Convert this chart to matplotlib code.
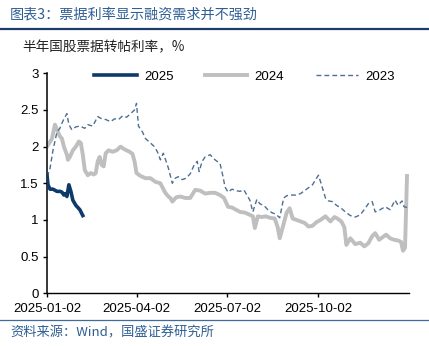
import matplotlib
matplotlib.use("Agg")
import matplotlib.pyplot as plt
import pandas as pd
from matplotlib.lines import Line2D

plt.rcParams['font.family'] = ['Liberation Sans', 'Noto Sans CJK SC', 'DejaVu Sans']

# ---- data (days after 2025-01-02, value %) ----
days_2025 = [0, 1, 3, 6, 10, 13, 15, 17, 19, 20, 22, 24, 26, 29, 33, 36]
vals_2025 = [1.61, 1.48, 1.42, 1.42, 1.39, 1.39, 1.38, 1.34, 1.36, 1.32, 1.48, 1.39, 1.27, 1.20, 1.14, 1.06]

days_2024 = [0, 5, 8, 11, 13, 15, 17, 20, 21, 23, 26, 29, 32, 34, 36, 38, 41, 44, 47, 49,
             51, 53, 55, 57, 59, 62, 66, 70, 74, 77, 80, 83, 86, 88, 90, 94, 99, 104, 109, 114,
             117, 119, 122, 124, 126, 130, 134, 139, 144, 149, 154, 159, 164, 169, 174, 178, 182, 186, 190, 194,
             199, 204, 207, 209, 212, 216, 220, 224, 229, 232, 234, 238, 241, 244, 247, 251, 255, 259, 263, 267,
             271, 275, 280, 285, 289, 292, 296, 299, 301, 305, 310, 315, 319, 323, 327, 330, 334, 337, 341, 345,
             349, 353, 356, 358, 360, 362]
vals_2024 = [2.00, 2.11, 2.30, 2.20, 2.14, 2.11, 2.00, 1.89, 1.82, 1.86, 1.95, 2.00, 2.07, 2.05, 1.89, 1.68, 1.61, 1.64, 1.62, 1.64,
             1.80, 1.86, 1.75, 1.73, 1.91, 1.95, 1.93, 1.95, 2.00, 1.97, 1.95, 1.93, 1.90, 1.80, 1.64, 1.60, 1.57, 1.57, 1.52, 1.50,
             1.42, 1.37, 1.32, 1.30, 1.25, 1.31, 1.32, 1.30, 1.30, 1.41, 1.40, 1.36, 1.37, 1.37, 1.34, 1.30, 1.18, 1.17, 1.14, 1.11,
             1.10, 1.07, 1.05, 0.89, 1.05, 1.04, 1.05, 1.03, 1.02, 0.90, 0.75, 0.95, 1.10, 1.16, 1.02, 1.00, 0.98, 0.96, 0.91, 0.92,
             0.97, 1.00, 1.05, 0.98, 1.04, 1.02, 0.98, 0.90, 0.66, 0.75, 0.67, 0.69, 0.64, 0.68, 0.78, 0.82, 0.73, 0.76, 0.80, 0.75,
             0.73, 0.72, 0.70, 0.58, 0.62, 1.60]

days_2023 = [0, 3, 6, 10, 13, 16, 20, 22, 25, 29, 33, 38, 41, 46, 51, 55, 59, 64, 68, 72,
             76, 80, 84, 88, 90, 92, 96, 99, 104, 108, 111, 114, 117, 122, 126, 129, 132, 136, 140, 144,
             148, 151, 153, 156, 159, 164, 169, 174, 177, 179, 182, 186, 190, 194, 198, 201, 204, 207, 211, 214,
             218, 222, 226, 230, 234, 238, 241, 245, 250, 255, 260, 264, 267, 270, 273, 276, 280, 283, 287, 291,
             295, 300, 305, 310, 315, 320, 323, 327, 330, 335, 340, 345, 350, 353, 357, 359, 362]
vals_2023 = [1.59, 1.70, 1.95, 2.20, 2.25, 2.35, 2.45, 2.30, 2.23, 2.27, 2.28, 2.25, 2.30, 2.28, 2.41, 2.38, 2.37, 2.34, 2.38, 2.37,
             2.42, 2.40, 2.45, 2.50, 2.59, 2.28, 2.20, 2.11, 2.05, 2.00, 1.93, 1.82, 1.91, 1.71, 1.50, 1.57, 1.59, 1.55, 1.57, 1.63,
             1.75, 1.80, 1.66, 1.80, 1.86, 1.89, 1.82, 1.77, 1.59, 1.45, 1.38, 1.42, 1.40, 1.39, 1.41, 1.34, 1.27, 1.11, 1.28, 1.22,
             1.20, 1.14, 1.10, 1.08, 1.03, 1.30, 1.33, 1.34, 1.34, 1.36, 1.41, 1.45, 1.48, 1.55, 1.61, 1.48, 1.30, 1.26, 1.25, 1.20,
             1.17, 1.11, 1.06, 1.04, 1.07, 1.16, 1.22, 1.25, 1.11, 1.14, 1.18, 1.14, 1.27, 1.20, 1.26, 1.18, 1.17]

x_ticks = ['2025-01-02', '2025-04-02', '2025-07-02', '2025-10-02']
y_ticks = [0, 0.5, 1, 1.5, 2, 2.5, 3]
y_tick_labels = ['0', '0.5', '1', '1.5', '2', '2.5', '3']
series_names = ['2025', '2024', '2023']

title = '图表3：票据利率显示融资需求并不强劲'
subtitle = '半年国股票据转帖利率，%'
source = '资料来源：Wind，国盛证券研究所'

base = pd.Timestamp('2025-01-02')
def to_dates(d):
    return base + pd.to_timedelta(d, unit='D')

W, H = 429, 346
fig = plt.figure(figsize=(W / 100, H / 100), dpi=100)
ax = fig.add_axes([47 / W, 1 - 293.3 / H, (408.5 - 47) / W, (293.3 - 73.3) / H])

c2025 = '#0E3A6B'
c2024 = '#BFBFBF'
c2023 = '#4F6F92'

ax.plot(to_dates(days_2024), vals_2024, color=c2024, lw=2.8, solid_joinstyle='round', zorder=2)
ax.plot(to_dates(days_2023), vals_2023, color=c2023, lw=1.0, linestyle=(0, (3.5, 2.2)), zorder=3)
ax.plot(to_dates(days_2025), vals_2025, color=c2025, lw=2.6, solid_joinstyle='round', zorder=4)

ax.set_ylim(0, 3)
ax.set_xlim(base, to_dates(363.5))
ax.set_yticks(y_ticks)
ax.set_yticklabels(y_tick_labels)
ax.set_xticks(pd.to_datetime(x_ticks))
ax.set_xticklabels(x_ticks)
ax.tick_params(axis='both', labelsize=9.5, length=3, width=1, colors='black', direction='out')
ax.tick_params(axis='x', pad=4)
ax.tick_params(axis='y', pad=3)
for s in ['top', 'right']:
    ax.spines[s].set_visible(False)
ax.spines['left'].set_linewidth(1.1)
ax.spines['bottom'].set_linewidth(1.0)

handles = [Line2D([], [], color=c2025, lw=2.6),
           Line2D([], [], color=c2024, lw=2.8),
           Line2D([], [], color=c2023, lw=1.0, linestyle=(0, (3.5, 2.2)))]
fig.legend(handles, series_names, loc='center', bbox_to_anchor=(244.5 / W, 1 - 77 / H),
           ncol=3, frameon=False, fontsize=9.5, handlelength=3.2, handletextpad=0.55,
           columnspacing=2.4, borderaxespad=0, borderpad=0)

blue_txt = '#2E5E94'
fig.text(10 / W, 1 - 15 / H, title, fontsize=10.2, color=blue_txt, style='italic',
         va='center', ha='left', family=['Noto Sans CJK SC', 'DejaVu Sans'])
fig.add_artist(Line2D([0, 1], [1 - 29.3 / H, 1 - 29.3 / H], transform=fig.transFigure,
                      color='#1F3D6B', lw=1.6))
fig.text(22 / W, 1 - 47 / H, subtitle, fontsize=9.8, color='#222222',
         va='center', ha='left', family=['Noto Sans CJK SC', 'DejaVu Sans'])
fig.add_artist(Line2D([0, 1], [1 - 320 / H, 1 - 320 / H], transform=fig.transFigure,
                      color='#3E6C9C', lw=0.9))
fig.text(10 / W, 1 - 333 / H, source, fontsize=9.5, color=blue_txt, style='italic',
         va='center', ha='left', family=['Noto Sans CJK SC', 'DejaVu Sans'])

fig.savefig('out.png', dpi=100)
